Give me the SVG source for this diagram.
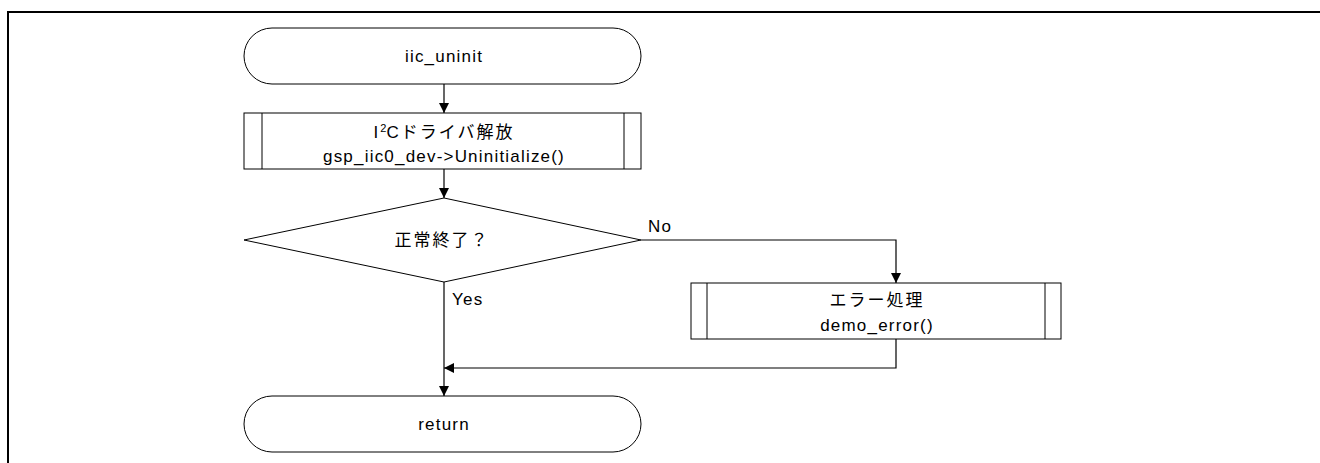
<svg xmlns="http://www.w3.org/2000/svg" width="1320" height="463" viewBox="0 0 1320 463">
<style>
.s{fill:#fff;stroke:#000;stroke-width:1}
.l{fill:none;stroke:#000;stroke-width:1.2}
.t{font-family:"Liberation Sans","Noto Sans CJK JP",sans-serif;font-size:17px;fill:#000;letter-spacing:1.2px}
.j{font-family:"Liberation Sans","Noto Sans CJK JP",sans-serif;font-size:17px;fill:#000;letter-spacing:2px}
.c{text-anchor:middle}
</style>
<defs>
<marker id="a" viewBox="0 0 10 10" refX="10" refY="5" markerWidth="10" markerHeight="10" markerUnits="userSpaceOnUse" orient="auto">
<path d="M0,0 L10,5 L0,10 z" fill="#000"/>
</marker>
</defs>
<rect width="1320" height="463" fill="#fff"/>
<path d="M8,463 V12 H1320" fill="none" stroke="#000" stroke-width="2"/>
<g id="connectors">
<path class="l" d="M444,84 V113" marker-end="url(#a)"/>
<path class="l" d="M444,169 V198" marker-end="url(#a)"/>
<path class="l" d="M641,240 H896 V283" marker-end="url(#a)"/>
<path class="l" d="M444,282 V396" marker-end="url(#a)"/>
<path class="l" d="M896,339 V368 H444" marker-end="url(#a)"/>
<text class="t" x="648" y="232">No</text>
<text class="t" x="452" y="305">Yes</text>
</g>
<g id="start">
<rect class="s" x="244" y="28" width="397" height="56" rx="28"/>
<text class="t c" x="444" y="62">iic_uninit</text>
</g>
<g id="uninit">
<rect class="s" x="244" y="113" width="397" height="56"/>
<path class="s" d="M262,113 V169 M624,113 V169"/>
<text class="j c" x="444" y="138">I<tspan font-size="11" dy="-6" letter-spacing="0">2</tspan><tspan dy="6">Cドライバ解放</tspan></text>
<text class="t c" x="444" y="162">gsp_iic0_dev-&gt;Uninitialize()</text>
</g>
<g id="check">
<path class="s" d="M444,198 L641,240 L444,282 L244,240 z"/>
<text class="j c" x="442" y="246">正常終了？</text>
</g>
<g id="error">
<rect class="s" x="691" y="283" width="370" height="56"/>
<path class="s" d="M707,283 V339 M1045,283 V339"/>
<text class="j c" x="877" y="306">エラー処理</text>
<text class="t c" x="877" y="331">demo_error()</text>
</g>
<g id="return">
<rect class="s" x="244" y="396" width="397" height="56" rx="28"/>
<text class="t c" x="444" y="430">return</text>
</g>
</svg>
